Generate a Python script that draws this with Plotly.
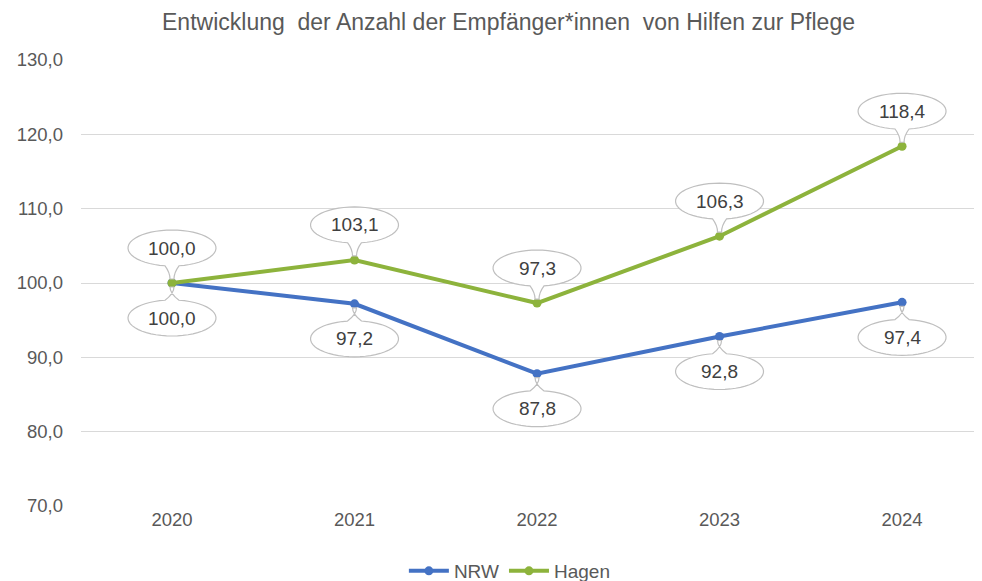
import plotly.graph_objects as go
import math

years = ["2020", "2021", "2022", "2023", "2024"]
nrw = [100.0, 97.2, 87.8, 92.8, 97.4]
hagen = [100.0, 103.1, 97.3, 106.3, 118.4]
y_ticks = [70, 80, 90, 100, 110, 120, 130]
y_tick_labels = ["70,0", "80,0", "90,0", "100,0", "110,0", "120,0", "130,0"]

BLUE = "#4472C4"
GREEN = "#8DB33C"
FONT = "Liberation Sans, Arial, sans-serif"

def fmt(v):
    return f"{v:.1f}".replace(".", ",")

def callout_path(direction):
    # direction +1: bubble above point, -1: below (pixel offsets relative to point)
    rx, ry, d = 44, 18, 35
    neck = 7
    gap = math.asin(neck / rx)
    n = 48
    base = -math.pi / 2 if direction > 0 else math.pi / 2
    a0 = base + gap
    a1 = base + 2 * math.pi - gap
    pts = []
    for i in range(n + 1):
        a = a0 + (a1 - a0) * i / n
        pts.append((rx * math.cos(a), direction * d + ry * math.sin(a)))
    tip_y = 4 * direction
    path = "M %.2f,%.2f " % pts[0]
    for p in pts[1:]:
        path += "L %.2f,%.2f " % p
    mid_y = (pts[-1][1] + tip_y) / 2
    path += "Q %.2f,%.2f %.2f,%.2f " % (-2, mid_y, -2, tip_y)
    path += "L 2,%.2f " % tip_y
    path += "Q %.2f,%.2f %.2f,%.2f Z" % (2, mid_y, pts[0][0], pts[0][1])
    return path

fig = go.Figure()
fig.add_trace(go.Scatter(x=years, y=nrw, name="NRW", mode="lines+markers",
                         line=dict(color=BLUE, width=4), marker=dict(color=BLUE, size=9)))
fig.add_trace(go.Scatter(x=years, y=hagen, name="Hagen", mode="lines+markers",
                         line=dict(color=GREEN, width=4), marker=dict(color=GREEN, size=9)))

shapes = []
annotations = []
for series, direction in ((hagen, 1), (nrw, -1)):
    p = callout_path(direction)
    for i, v in enumerate(series):
        shapes.append(dict(type="path", xref="x", yref="y", xsizemode="pixel", ysizemode="pixel",
                           xanchor=i, yanchor=v, path=p,
                           line=dict(color="#BFBFBF", width=1.2), fillcolor="white", layer="above"))
        annotations.append(dict(x=i, y=v, xref="x", yref="y", text=fmt(v), showarrow=False,
                                yshift=35 * direction, font=dict(family=FONT, size=19, color="#404040")))

H = 581
fig.update_layout(
    width=974, height=H,
    margin=dict(l=73, r=0, t=52, b=83, autoexpand=False),
    paper_bgcolor="white", plot_bgcolor="white",
    title=dict(text="Entwicklung  der Anzahl der Empfänger*innen  von Hilfen zur Pflege",
               xref="paper", x=0.4745, xanchor="center",
               yref="container", y=0.99, yanchor="top", pad=dict(t=0, b=0),
               font=dict(family=FONT, size=23, color="#595959")),
    xaxis=dict(type="category", range=[-0.4986, 4.438], showgrid=False, showline=False,
               ticks="", tickfont=dict(family=FONT, size=18.5, color="#595959")),
    yaxis=dict(range=[70, 130], tickvals=y_ticks, ticktext=y_tick_labels, showgrid=True,
               gridcolor="#D9D9D9", gridwidth=1.3, zeroline=False, showline=False, ticks="",
               tickfont=dict(family=FONT, size=18.5, color="#595959"), ticklabelstandoff=17),
    legend=dict(orientation="h", x=0.476, xanchor="center", y=-(563 - 498) / 446, yanchor="middle",
                font=dict(family=FONT, size=19, color="#595959"), itemwidth=40),
    shapes=shapes, annotations=annotations, showlegend=True,
)
fig.write_html("out.html")
